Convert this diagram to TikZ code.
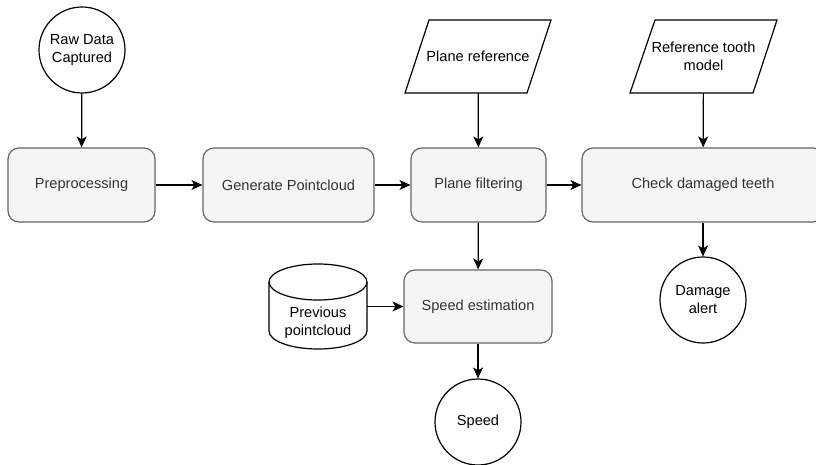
\documentclass[tikz,border=0pt]{standalone}
\usepackage{fontspec}
\setmainfont{Liberation Sans}
\usetikzlibrary{shapes.geometric,arrows.meta}
\definecolor{boxfill}{HTML}{F5F5F5}
\definecolor{boxline}{HTML}{666666}
\definecolor{boxtext}{HTML}{333333}
\begin{document}
\begin{tikzpicture}[x=1pt,y=-1pt,
  every node/.style={font=\fontsize{14.6}{18}\selectfont, align=center, inner sep=0pt},
  procbox/.style={draw=boxline, fill=boxfill, text=boxtext, rounded corners=11pt, line width=1.2pt, minimum height=74pt},
  endcirc/.style={draw=black, fill=white, circle, line width=1.2pt, minimum size=86pt},
  iobox/.style={minimum height=73pt, minimum width=122pt},
  shapeline/.style={draw=black, fill=white, line width=1.2pt, line join=miter},
  flow/.style={line width=1.2pt, -{Stealth[length=11pt,width=10pt,inset=3pt]}}
]
\clip (0,0) rectangle (816,465);
\useasboundingbox (0,0) rectangle (816,465);

% parallelograms (drawn first, text nodes on top)
\draw[shapeline] (405,93) -- (429,20) -- (551,20) -- (527,93) -- cycle;
\draw[shapeline] (630,93) -- (655,20) -- (777,20) -- (753,93) -- cycle;
\node[iobox] (pref) at (478,56.5) {Plane reference};
\node[iobox] (tref) at (703.5,56.5) {Reference tooth\\model};

\node[endcirc] (raw) at (82,50) {Raw Data\\Captured};
\node[procbox, minimum width=147pt] (pre) at (81.5,185) {Preprocessing};
\node[procbox, minimum width=171pt] (gen) at (288.5,185) {Generate Pointcloud};
\node[procbox, minimum width=135pt] (plane) at (478.5,185) {Plane filtering};
\node[procbox, minimum width=242pt] (check) at (703,185) {Check damaged teeth};
\node[procbox, minimum width=148pt, minimum height=73pt] (sest) at (478,306.5) {Speed estimation};
\node[endcirc] (speed) at (478,422) {Speed};
\node[endcirc] (dmg) at (703,300) {Damage\\alert};

% cylinder
\node[minimum width=98pt, minimum height=85pt] (cyl) at (318,306.5) {};
\draw[shapeline] (269,282) -- (269,331) arc[start angle=180, end angle=0, x radius=49, y radius=18] -- (367,282);
\draw[shapeline] (318,282) ellipse [x radius=49, y radius=18];
\node (cyltext) at (318,323) {Previous\\pointcloud};

\draw[flow] (raw) -- (pre);
\draw[flow] (pre) -- (gen);
\draw[flow] (gen) -- (plane);
\draw[flow] (plane) -- (plane -| check.west);
\draw[flow] (pref) -- (plane);
\draw[flow] (tref) -- (check);
\draw[flow] (plane) -- (sest);
\draw[flow] (cyl.east) -- (sest.west |- cyl.east);
\draw[flow] (sest) -- (speed);
\draw[flow] (check) -- (dmg);
\end{tikzpicture}
\end{document}
